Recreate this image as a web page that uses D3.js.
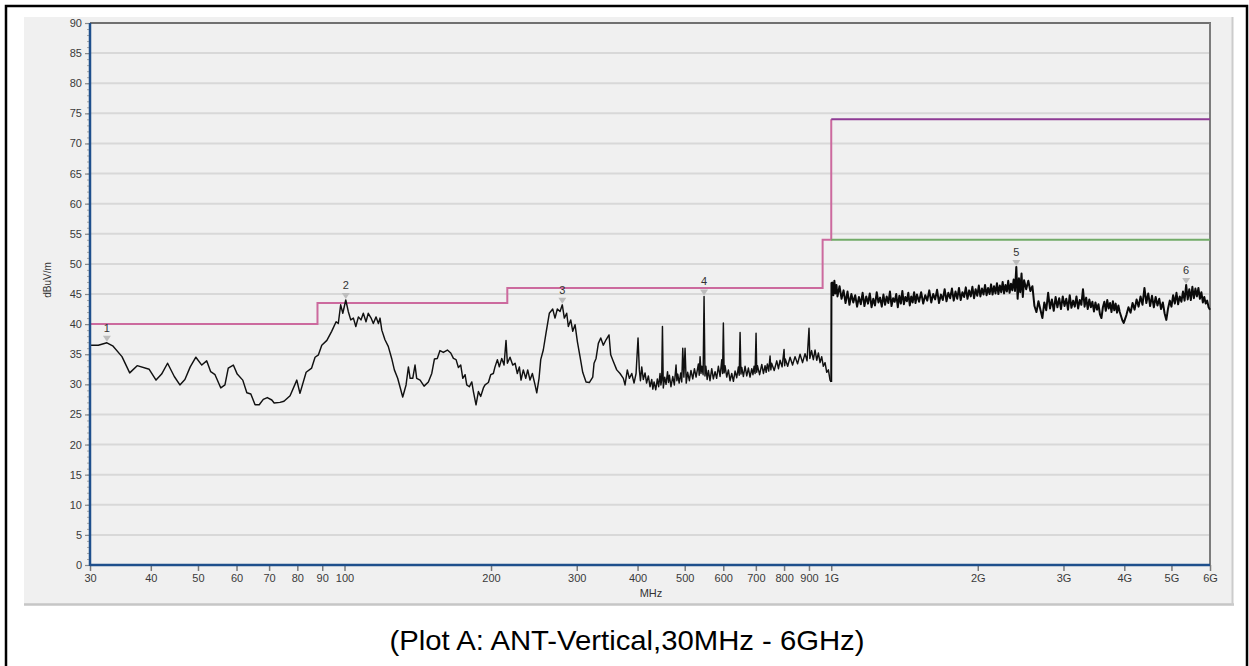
<!DOCTYPE html>
<html>
<head>
<meta charset="utf-8">
<script src="https://cdn.jsdelivr.net/npm/d3@7"></script>
<style>
  body { margin: 0; background: #ffffff; }
  svg { display: block; font-family: "Liberation Sans", Arial, sans-serif; }
</style>
</head>
<body>
<svg id="chart" width="1249" height="666"></svg>
<script>
// ---------------- DATA ----------------
const xTickValues = [30, 40, 50, 60, 70, 80, 90, 100, 200, 300, 400, 500, 600, 700, 800, 900, 1000, 2000, 3000, 4000, 5000, 6000];
const xTickLabels = ["30", "40", "50", "60", "70", "80", "90", "100", "200", "300", "400", "500", "600", "700", "800", "900", "1G", "2G", "3G", "4G", "5G", "6G"];
const yTickValues = [0, 5, 10, 15, 20, 25, 30, 35, 40, 45, 50, 55, 60, 65, 70, 75, 80, 85, 90];

const xLabel = "MHz";
const yLabel = "dBuV/m";
const caption = "(Plot A: ANT-Vertical,30MHz - 6GHz)";

// limit lines [MHz, dBuV/m]
const limitQP = [[30, 40], [88, 40], [88, 43.5], [216, 43.5], [216, 46], [960, 46], [960, 54], [1000, 54], [1000, 74]];
const limitPeak = [[1000, 74], [6000, 74]];
const limitAvg = [[1000, 54], [6000, 54]];

// measured trace [MHz, dBuV/m], 30 MHz - 1 GHz
const traceLow = [
  [30.0,36.5],[31.2,36.5],[32.5,36.9],[33.4,36.4],[34.9,34.6],[36.2,31.9],[37.5,33.1],[39.7,32.5],[41.0,30.7],[42.1,31.7],
  [43.3,33.5],[44.7,31.3],[45.9,29.9],[47.0,30.8],[48.2,32.9],[49.5,34.5],[50.9,33.2],[52.1,33.9],[53.1,32.1],[54.2,31.6],
  [55.7,29.4],[56.8,29.9],[57.7,32.7],[59.1,33.2],[60.2,31.7],[61.8,30.7],[63.0,28.6],[64.2,28.4],[65.5,26.6],[66.8,26.6],
  [68.1,27.5],[69.4,27.8],[70.9,27.4],[71.7,26.9],[73.7,27.0],[75.1,27.2],[77.3,28.1],[79.8,30.7],[81.0,28.5],[83.4,32.0],
  [85.6,32.7],[87.0,34.5],[88.4,34.9],[89.8,36.5],[92.0,37.3],[94.1,38.8],[96.1,40.4],[97.1,40.1],[98.2,43.2],[99.2,41.8],
  [100.6,44.0],[101.8,42.1],[103.0,40.7],[104.3,41.0],[105.5,39.6],[106.8,41.2],[108.1,40.7],[109.3,41.8],[110.7,40.4],[111.9,41.8],
  [113.4,41.0],[114.6,40.1],[116.1,41.2],[117.4,40.1],[118.3,41.0],[119.3,39.0],[121.1,37.4],[123.0,36.3],[125.0,34.3],[126.6,32.4],
  [128.6,31.0],[130.0,29.6],[131.7,27.9],[133.8,29.9],[135.3,32.9],[136.4,31.0],[138.1,31.0],[139.6,33.2],[140.7,31.0],[143.0,30.7],
  [145.7,29.7],[148.7,30.4],[151.1,31.8],[153.0,34.2],[155.1,34.3],[157.1,35.6],[159.6,35.3],[162.7,35.7],[165.3,35.2],[167.4,34.3],
  [169.5,34.1],[171.4,32.8],[173.3,33.2],[175.0,31.0],[176.9,31.6],[178.3,29.9],[180.5,29.6],[182.6,30.4],[184.0,28.8],[186.3,26.6],
  [188.4,28.8],[190.5,28.0],[192.9,29.4],[194.4,29.9],[197.5,30.3],[199.7,31.6],[202.2,31.8],[203.8,32.9],[206.1,34.1],[208.0,32.9],
  [210.4,34.3],[212.7,33.2],[214.7,37.3],[216.1,33.5],[218.8,34.5],[221.6,33.2],[224.1,33.5],[226.5,31.8],[228.7,32.9],[230.5,30.7],
  [233.0,32.4],[235.7,31.0],[237.9,32.4],[240.5,30.7],[243.2,31.8],[246.3,29.9],[248.3,28.6],[251.0,31.0],[253.0,34.1],[256.1,35.7],
  [259.4,38.5],[263.5,41.8],[267.8,42.5],[270.7,41.0],[273.7,42.5],[277.2,42.1],[280.2,43.2],[282.9,41.0],[286.1,41.8],[288.3,39.6],
  [291.6,40.7],[294.4,38.8],[297.6,39.9],[300.9,37.1],[304.7,34.6],[308.6,32.0],[313.5,30.4],[318.4,30.3],[323.6,31.2],[325.6,33.5],
  [328.7,34.3],[332.3,36.8],[336.1,37.7],[340.2,36.5],[344.6,37.4],[349.5,38.2],[352.3,34.9],[356.7,33.8],[362.5,32.4],[368.2,31.8],
  [374.0,31.0],[377.0,29.9],[381.1,32.4],[384.8,31.0],[389.2,31.8],[393.4,30.2],[397.2,31.8],[400.9,37.7],
  [403.4,32.4],[405.5,30.6],[408.0,32.9],[411.0,30.8],[414.4,31.9],[417.5,30.2],[421.0,31.4],[424.3,29.6],[427.8,30.8],[430.0,29.2],
  [432.5,30.4],[436.0,29.1],[439.3,30.9],[442.0,29.6],[444.9,31.8],[446.7,29.9],[448.4,30.7],[450.0,39.6],[451.8,29.4],[454.8,31.2],
  [457.7,30.0],[461.0,32.1],[463.0,30.3],[465.0,31.5],[468.5,29.6],[472.5,31.3],[476.0,29.9],[479.9,33.2],[481.8,30.6],[483.8,31.7],
  [487.0,30.2],[490.7,31.9],[493.0,30.4],[495.4,36.0],[498.0,31.2],[500.8,36.0],[503.6,30.2],[507.0,32.0],[511.1,30.6],[515.0,32.3],
  [519.4,30.9],[523.5,32.6],[527.6,31.2],[533.4,33.4],[535.5,31.5],[537.7,34.6],[540.0,31.8],[542.2,33.0],[545.5,31.6],[547.9,44.6],
  [550.3,31.4],[552.6,33.0],[556.0,30.8],[559.2,32.3],[563.5,30.6],[568.2,32.6],[572.5,30.9],[577.2,32.1],[581.5,31.0],[586.3,33.0],
  [591.0,31.3],[595.8,34.1],[598.0,31.8],[600.3,40.2],[602.5,31.9],[605.0,33.1],[610.0,31.2],[614.7,32.4],[619.5,30.6],[624.6,31.8],
  [629.5,30.5],[634.5,32.2],[639.5,31.1],[644.5,32.9],[647.0,31.5],[649.7,38.6],[652.3,31.7],[654.9,32.8],[660.0,31.3],[665.2,33.0],
  [670.5,31.4],[675.7,32.7],[681.0,31.2],[686.6,32.6],[690.5,31.6],[694.2,33.0],[697.5,31.8],[700.7,38.5],[703.0,32.0],[705.4,33.1],
  [712.5,31.6],[719.9,33.3],[725.5,31.8],[731.2,33.1],[735.0,32.0],[739.2,33.4],[744.0,32.2],[748.7,34.7],[751.5,32.4],[754.2,33.5],
  [763.5,32.3],[772.8,33.9],[779.0,32.6],[785.0,34.0],[792.5,32.9],[800.0,35.8],[802.3,33.1],[804.6,34.2],[813.8,33.0],[823.0,34.5],
  [832.8,33.2],[842.6,34.6],[852.7,33.4],[862.8,35.0],[873.1,33.6],[883.4,35.1],[891.8,33.9],[900.2,39.3],[903.7,34.3],[911.2,35.6],
  [918.8,34.1],[926.3,35.7],[933.7,34.0],[941.0,35.2],[948.4,33.6],[955.8,34.6],[963.3,33.0],[971.1,33.6],[978.9,32.0],[986.6,32.4],
  [994.3,30.7],[1000.0,30.4]
];

// measured trace [MHz, dBuV/m], 1 GHz - 6 GHz
const traceHigh = [
  [1000,30.4],[1001,46.8],[1005,46.9],[1010,44.8],[1015,47.2],[1020,45.1],[1025,46.5],[1030,44.6],[1040,46.3],[1050,44.2],[1060,45.6],
  [1070,43.5],[1080,45.4],[1090,43.2],[1100,45.0],[1110,43.6],[1120,44.8],[1130,42.9],[1140,44.5],[1150,43.3],[1160,45.2],
  [1170,43.0],[1180,44.6],[1190,43.4],[1200,45.1],[1210,42.8],[1220,44.2],[1230,43.1],[1240,45.3],[1250,43.6],[1260,44.4],
  [1270,42.9],[1280,44.9],[1290,43.2],[1300,44.6],[1310,43.5],[1320,45.4],[1330,43.0],[1340,44.3],[1350,43.7],[1360,45.0],
  [1370,42.8],[1380,44.7],[1390,43.4],[1400,45.5],[1410,43.3],[1420,44.5],[1430,43.8],[1440,45.2],[1450,43.1],[1460,44.6],
  [1470,43.6],[1480,45.3],[1490,43.5],[1500,44.9],
  [1515,43.7],[1530,45.3],[1545,43.4],[1560,44.8],[1575,43.9],[1590,45.6],[1605,43.6],[1620,45.0],[1635,44.1],[1650,45.7],
  [1665,43.5],[1680,44.9],[1695,44.0],[1710,45.8],[1725,43.8],[1740,45.2],[1755,44.3],[1770,45.9],[1785,43.9],[1800,45.4],
  [1815,44.2],[1830,46.0],[1845,44.0],[1860,45.3],[1875,44.5],[1890,46.1],[1905,44.2],[1920,45.6],[1935,44.6],[1950,46.2],
  [1965,44.3],[1980,45.8],[1995,44.7],[2010,46.4],[2025,44.6],[2040,45.9],[2055,44.9],[2070,46.5],[2085,44.8],[2100,46.0],
  [2115,45.0],[2130,46.6],[2145,44.9],[2160,46.3],[2175,45.1],[2190,46.8],[2205,45.0],[2220,46.4],[2235,45.3],[2250,47.0],
  [2265,45.1],[2280,46.5],[2295,45.4],[2310,47.2],[2325,45.2],[2340,46.7],[2355,45.6],[2370,47.4],[2385,45.5],[2400,49.5],
  [2415,44.2],[2430,47.6],[2445,45.3],[2460,48.4],[2475,44.5],[2490,47.3],
  [2515,45.8],[2540,47.2],[2565,45.5],[2590,46.3],[2615,43.0],[2640,42.0],[2665,43.8],[2690,42.4],[2715,41.0],[2740,43.6],
  [2765,42.3],[2790,45.2],[2815,42.6],[2840,44.1],[2865,42.2],[2890,44.5],[2915,42.8],[2940,44.3],[2965,42.5],[2990,44.6],
  [3015,43.0],[3040,44.2],[3065,42.4],[3090,44.8],[3115,42.7],[3140,43.9],[3165,42.9],[3190,44.6],[3215,42.6],[3240,44.0],
  [3265,43.2],[3290,45.8],[3315,42.9],[3340,44.4],[3365,42.5],[3390,44.1],[3415,42.8],[3440,43.7],[3465,42.1],[3490,43.6],
  [3515,42.4],[3540,43.3],[3565,41.6],[3590,41.0],[3615,42.8],[3640,43.7],[3665,42.2],[3690,44.0],[3715,42.6],[3740,43.5],
  [3765,42.0],[3790,43.8],[3815,42.3],[3840,43.4],[3865,41.9],[3890,43.1],[3915,42.0],[3940,41.3],[3965,40.6],[3990,40.2],
  [4040,41.5],[4080,42.8],[4120,41.9],[4160,43.5],[4200,42.4],[4240,44.1],[4280,42.9],[4320,44.6],[4360,43.2],[4400,46.0],
  [4440,43.5],[4480,45.1],[4520,43.0],[4560,44.7],[4600,42.8],[4640,44.5],[4680,43.1],[4720,44.2],[4760,42.5],[4800,43.6],
  [4840,41.8],[4880,40.7],[4920,42.6],[4960,43.9],[5000,42.9],[5040,44.8],[5080,43.4],[5120,45.2],[5160,43.3],[5200,44.6],
  [5240,43.7],[5280,45.4],[5320,43.9],[5360,46.5],[5400,44.1],[5440,45.8],[5480,44.0],[5520,46.2],[5560,44.3],[5600,45.9],
  [5640,44.6],[5680,46.0],[5720,44.2],[5760,45.3],[5800,43.6],[5840,44.5],[5880,43.4],[5920,43.9],[5960,42.8],[6000,42.4]
];

// markers
const markerLabels = ["1", "2", "3", "4", "5", "6"];
const markerFreqs = [32.5, 100.6, 280.2, 547.9, 2400, 5360];
const markerLevels = [36.9, 44.0, 43.2, 44.6, 49.5, 46.5];

// ---------------- DRAWING ----------------
const svg = d3.select("#chart");

// outer black frame
svg.append("rect").attr("x", 6).attr("y", 6).attr("width", 1241).attr("height", 700)
  .attr("fill", "none").attr("stroke", "#000").attr("stroke-width", 2.5);

// grey panel
svg.append("rect").attr("x", 24).attr("y", 17).attr("width", 1209).attr("height", 588).attr("fill", "#f0f0f0");
svg.append("line").attr("x1", 24).attr("x2", 1234).attr("y1", 604.5).attr("y2", 604.5).attr("stroke", "#c6c6c6").attr("stroke-width", 2.5);
svg.append("line").attr("x1", 1232.5).attr("x2", 1232.5).attr("y1", 17).attr("y2", 605).attr("stroke", "#cccccc").attr("stroke-width", 2);

const x = d3.scaleLog().domain([30, 6000]).range([90, 1210]);
const y = d3.scaleLinear().domain([0, 90]).range([565, 23]);

// horizontal grid
svg.append("g").selectAll("line").data(yTickValues.filter(v => v > 0 && v < 90)).join("line")
  .attr("x1", x(30)).attr("x2", x(6000))
  .attr("y1", d => y(d)).attr("y2", d => y(d))
  .attr("stroke", "#d8d8d8").attr("stroke-width", 2);

// top and right frame of plot
svg.append("line").attr("x1", x(30)).attr("x2", x(6000) + 1).attr("y1", y(90)).attr("y2", y(90))
  .attr("stroke", "#707070").attr("stroke-width", 2);
svg.append("line").attr("x1", x(6000)).attr("x2", x(6000)).attr("y1", y(90)).attr("y2", y(0))
  .attr("stroke", "#7c7c7c").attr("stroke-width", 2);

// minor y ticks
const yMinor = d3.axisLeft(y).tickValues(y.ticks(90)).tickSize(3).tickFormat("");
const gMinor = svg.append("g").attr("transform", `translate(${x(30)},0)`).call(yMinor);
gMinor.select(".domain").remove();
gMinor.selectAll(".tick line").attr("stroke", "#a8a8a8").attr("stroke-width", 1);

// y axis
const gY = svg.append("g").attr("transform", `translate(${x(30)},0)`)
  .call(d3.axisLeft(y).tickValues(yTickValues).tickSize(5).tickPadding(3).tickFormat(d3.format("d")));
gY.select(".domain").remove();
gY.selectAll(".tick line").attr("stroke", "#8a8a8a").attr("stroke-width", 1.2);
gY.selectAll(".tick text").attr("fill", "#3a3a3a").style("font-size", "11px")
  .style("font-family", '"Liberation Sans", Arial, sans-serif');

// x axis
const gX = svg.append("g").attr("transform", `translate(0,${y(0)})`)
  .call(d3.axisBottom(x).tickValues(xTickValues).tickSize(6).tickPadding(3)
    .tickFormat((d, i) => xTickLabels[i]));
gX.select(".domain").remove();
gX.selectAll(".tick line").attr("stroke", "#7a7a7a").attr("stroke-width", 1.5);
gX.selectAll(".tick text").attr("fill", "#3a3a3a").style("font-size", "11px")
  .style("font-family", '"Liberation Sans", Arial, sans-serif');

// limit lines
const lim = d3.line().x(d => x(d[0])).y(d => y(d[1]));
svg.append("path").attr("d", lim(limitQP)).attr("fill", "none").attr("stroke", "#cc6a9e").attr("stroke-width", 2);
svg.append("path").attr("d", lim(limitPeak)).attr("fill", "none").attr("stroke", "#8e3b95").attr("stroke-width", 2);
svg.append("path").attr("d", lim(limitAvg)).attr("fill", "none").attr("stroke", "#72ab68").attr("stroke-width", 2);

// trace
const traceLine = d3.line().x(d => x(d[0])).y(d => y(d[1]));
svg.append("path").attr("d", traceLine(traceLow))
  .attr("fill", "none").attr("stroke", "#111").attr("stroke-width", 1.45).attr("stroke-linejoin", "round");
svg.append("path").attr("d", traceLine(traceHigh))
  .attr("fill", "none").attr("stroke", "#0a0a0a").attr("stroke-width", 2).attr("stroke-linejoin", "round");

// axis lines (blue) on top
svg.append("line").attr("x1", x(30)).attr("x2", x(30)).attr("y1", y(90)).attr("y2", y(0) + 1)
  .attr("stroke", "#1e4f8c").attr("stroke-width", 2.5);
svg.append("line").attr("x1", x(30)).attr("x2", x(6000)).attr("y1", y(0)).attr("y2", y(0))
  .attr("stroke", "#1e4f8c").attr("stroke-width", 2.5);

// markers
const mk = svg.append("g").selectAll("g").data(markerLabels).join("g")
  .attr("transform", (d, i) => `translate(${x(markerFreqs[i])},${y(markerLevels[i])})`);
mk.append("path").attr("d", "M-4,-7L4,-7L0,-1Z").attr("fill", "#bdbdbd");
mk.append("text").attr("y", -11).attr("text-anchor", "middle").attr("fill", "#333")
  .style("font-size", "11px").text(d => d);

// axis titles
svg.append("text").attr("x", 651).attr("y", 597).attr("text-anchor", "middle").attr("fill", "#333")
  .style("font-size", "11px").text(xLabel);
svg.append("text").attr("transform", "translate(51,280) rotate(-90)").attr("text-anchor", "middle")
  .attr("fill", "#333").style("font-size", "10px").text(yLabel);

// caption
svg.append("text").attr("x", 627).attr("y", 650).attr("text-anchor", "middle").attr("fill", "#000")
  .attr("textLength", 475).attr("lengthAdjust", "spacingAndGlyphs")
  .style("font-size", "28px").text(caption);
</script>
</body>
</html>
